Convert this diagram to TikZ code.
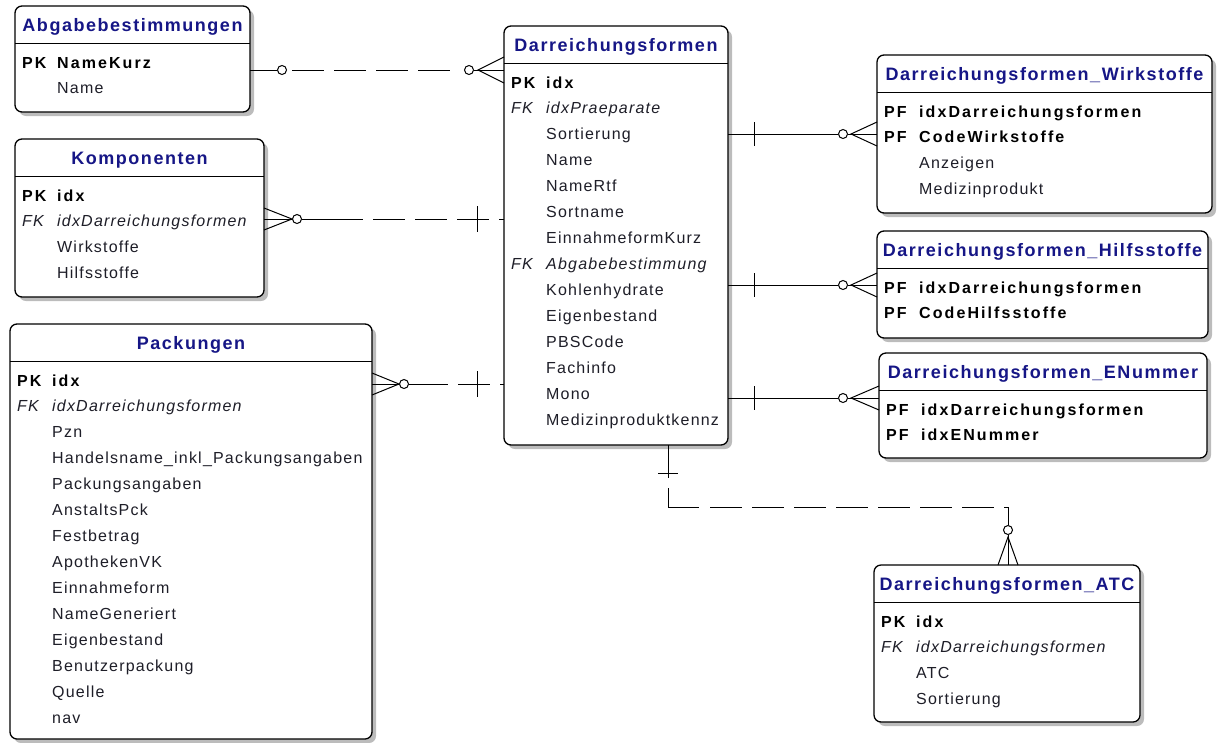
\documentclass[tikz,border=0pt]{standalone}
\usepackage{fontspec}
\setmainfont{Liberation Sans}[LetterSpace=7.5]
\newfontfamily\erheadfont{Liberation Sans}[LetterSpace=8.5]
\newfontfamily\erkeyfont{Liberation Sans}[LetterSpace=13]
\usetikzlibrary{calc}

\definecolor{ertitlecol}{RGB}{22,22,134}
\definecolor{ertextcol}{RGB}{30,30,40}
\definecolor{ershadowcol}{RGB}{188,188,188}

% font switches for the three kinds of attribute rows
\newcommand\erfontpk{\erkeyfont\bfseries\color{black}}
\newcommand\erfontfk{\itshape\color{ertextcol}}
\newcommand\erfontnm{\color{ertextcol}}

% entity box: name, left, top, right, bottom, title
\newcommand\ertable[6]{%
  \fill[ershadowcol, rounded corners=7pt] (#2+4,#3+4) rectangle (#4+4,#5+4);
  \node[erbox, minimum width={(#4-#2)*1pt}, minimum height={(#5-#3)*1pt}, anchor=north west] (#1) at (#2,#3) {};
  \draw[erframe] ($(#1.north west)+(0,37.5)$) -- ($(#1.north east)+(0,37.5)$);
  \node[ertitle, anchor=base] (#1-title) at ($(#1.north)+(0,25.5)$) {#6};
}

% attribute rows: table name, list of key/field/kind
\newcommand\erfields[2]{%
  \foreach \k/\f/\s [count=\i] in {#2} {
    \if\relax\detokenize\expandafter{\k}\relax\else
      \node[erfield, font=\fontsize{16}{19}\selectfont\csname erfont\s\endcsname]
        (#1-k\i) at ($(#1.north west)+(7,{62+(\i-1)*25.95})$) {\k};
    \fi
    \node[erfield, font=\fontsize{16}{19}\selectfont\csname erfont\s\endcsname]
      (#1-f\i) at ($(#1.north west)+(42,{62+(\i-1)*25.95})$) {\f};
  }
}

\begin{document}
\begin{tikzpicture}[x=1pt, y=-1pt,
  erbox/.style={draw=black, line width=1.3pt, fill=white, rounded corners=7pt, inner sep=0pt, outer sep=0pt},
  erframe/.style={draw=black, line width=1.3pt},
  ertitle/.style={inner sep=0pt, text=ertitlecol, font=\erheadfont\bfseries\fontsize{18}{21}\selectfont},
  erfield/.style={inner sep=0pt, anchor=base west},
  rel/.style={draw=black, line width=1pt},
  erdash/.style={dash pattern=on 32pt off 10pt},
  ercirc/.style={circle, draw=black, line width=1pt, fill=white, minimum size=9pt, inner sep=0pt}]

\useasboundingbox (0,0) rectangle (1222,742);

% ---------- entities ----------
\ertable{abg}{15}{6}{250}{112}{Abgabebestimmungen}
\erfields{abg}{PK/NameKurz/pk, /Name/nm}

\ertable{komp}{15}{139}{264}{297}{Komponenten}
\erfields{komp}{PK/idx/pk, FK/idxDarreichungsformen/fk, /Wirkstoffe/nm, /Hilfsstoffe/nm}

\ertable{pack}{10}{324}{372}{739}{Packungen}
\erfields{pack}{PK/idx/pk, FK/idxDarreichungsformen/fk, /Pzn/nm, /Handelsname\_inkl\_Packungsangaben/nm,
  /Packungsangaben/nm, /AnstaltsPck/nm, /Festbetrag/nm, /ApothekenVK/nm, /Einnahmeform/nm,
  /NameGeneriert/nm, /Eigenbestand/nm, /Benutzerpackung/nm, /Quelle/nm, /nav/nm}

\ertable{df}{504}{26}{728}{445}{Darreichungsformen}
\erfields{df}{PK/idx/pk, FK/idxPraeparate/fk, /Sortierung/nm, /Name/nm, /NameRtf/nm, /Sortname/nm,
  /EinnahmeformKurz/nm, FK/Abgabebestimmung/fk, /Kohlenhydrate/nm, /Eigenbestand/nm, /PBSCode/nm,
  /Fachinfo/nm, /Mono/nm, /Medizinproduktkennz/nm}

\ertable{dfw}{877}{55}{1212}{213}{Darreichungsformen\_Wirkstoffe}
\erfields{dfw}{PF/idxDarreichungsformen/pk, PF/CodeWirkstoffe/pk, /Anzeigen/nm, /Medizinprodukt/nm}

\ertable{dfh}{877}{231}{1208}{338}{Darreichungsformen\_Hilfsstoffe}
\erfields{dfh}{PF/idxDarreichungsformen/pk, PF/CodeHilfsstoffe/pk}

\ertable{dfe}{879}{353}{1207}{458}{Darreichungsformen\_ENummer}
\erfields{dfe}{PF/idxDarreichungsformen/pk, PF/idxENummer/pk}

\ertable{atc}{874}{565}{1140}{722}{Darreichungsformen\_ATC}
\erfields{atc}{PK/idx/pk, FK/idxDarreichungsformen/fk, /ATC/nm, /Sortierung/nm}

% ---------- relationships ----------
% Abgabebestimmungen (zero or one) -- Darreichungsformen (zero or many)
\coordinate (r1a) at (abg.east |- 0,70);
\coordinate (r1b) at (df.west |- 0,70);
\node[ercirc] (r1o1) at ($(r1a)+(32,0)$) {};
\node[ercirc] (r1o2) at ($(r1b)+(-35,0)$) {};
\draw[rel] (r1a) -- (r1o1.west);
\draw[rel, erdash] ($(r1o1)+(10,0)$) -- ($(r1o2)+(-12,0)$);
\draw[rel] (r1o2.east) -- (r1b);
\draw[rel] ($(r1b)+(0,-13)$) -- ($(r1o2)+(9,0)$) -- ($(r1b)+(0,13)$);

% Komponenten (zero or many) -- Darreichungsformen (exactly one)
\coordinate (r2a) at (komp.east |- 0,219);
\coordinate (r2b) at (df.west |- 0,219);
\node[ercirc] (r2o) at ($(r2a)+(33,0)$) {};
\draw[rel] (r2a) -- ($(r2o)+(-5,0)$);
\draw[rel] ($(r2a)+(0,-11)$) -- ($(r2o)+(-5,0)$) -- ($(r2a)+(0,11)$);
\draw[rel] (r2o.east) -- ($(r2b)+(-141,0)$);
\draw[rel, erdash] ($(r2b)+(-131,0)$) -- (r2b);
\draw[rel] ($(r2b)+(-27,-13)$) -- ($(r2b)+(-27,13)$);

% Packungen (zero or many) -- Darreichungsformen (exactly one)
\coordinate (r3a) at (pack.east |- 0,384);
\coordinate (r3b) at (df.west |- 0,384);
\node[ercirc] (r3o) at ($(r3a)+(32,0)$) {};
\draw[rel] (r3a) -- ($(r3o)+(-5,0)$);
\draw[rel] ($(r3a)+(0,-11)$) -- ($(r3o)+(-5,0)$) -- ($(r3a)+(0,11)$);
\draw[rel] (r3o.east) -- ($(r3b)+(-56,0)$);
\draw[rel, erdash] ($(r3b)+(-46,0)$) -- (r3b);
\draw[rel] ($(r3b)+(-27,-13)$) -- ($(r3b)+(-27,13)$);

% Darreichungsformen (exactly one) -- link tables on the right (zero or many)
\foreach \tab/\yy in {dfw/134, dfh/285, dfe/398} {
  \coordinate (r-\tab-a) at (df.east |- 0,\yy);
  \coordinate (r-\tab-b) at (\tab.west |- 0,\yy);
  \node[ercirc] (r-\tab-o) at ($(r-\tab-a)+(115,0)$) {};
  \draw[rel] (r-\tab-a) -- (r-\tab-o.west);
  \draw[rel] ($(r-\tab-a)+(26,-12)$) -- ($(r-\tab-a)+(26,12)$);
  \draw[rel] (r-\tab-o.east) -- (r-\tab-b);
  \draw[rel] ($(r-\tab-b)+(0,-12)$) -- ($(r-\tab-o)+(8,0)$) -- ($(r-\tab-b)+(0,12)$);
}

% Darreichungsformen (exactly one) -- Darreichungsformen_ATC (zero or many)
\coordinate (r7a) at (668,0 |- df.south);
\coordinate (r7c) at (1008,0 |- atc.north);
\coordinate (r7k) at (668,507);
\coordinate (r7m) at (1008,507);
\node[ercirc] (r7o) at (1008,530) {};
\draw[rel] (r7a) -- ($(r7a)+(0,33)$);
\draw[rel] ($(r7a)+(-10,28)$) -- ($(r7a)+(10,28)$);
\draw[rel] ($(r7k)+(0,-19)$) -- (r7k) -- ($(r7k)+(31,0)$);
\draw[rel, erdash] ($(r7k)+(42,0)$) -- ($(r7m)+(-4,0)$);
\draw[rel] ($(r7m)+(-4,0)$) -- (r7m) -- (r7o.north);
\draw[rel] (r7o.south) -- (r7c);
\draw[rel] ($(r7c)+(-10,0)$) -- ($(r7o)+(0,7)$) -- ($(r7c)+(10,0)$);

\end{tikzpicture}
\end{document}
